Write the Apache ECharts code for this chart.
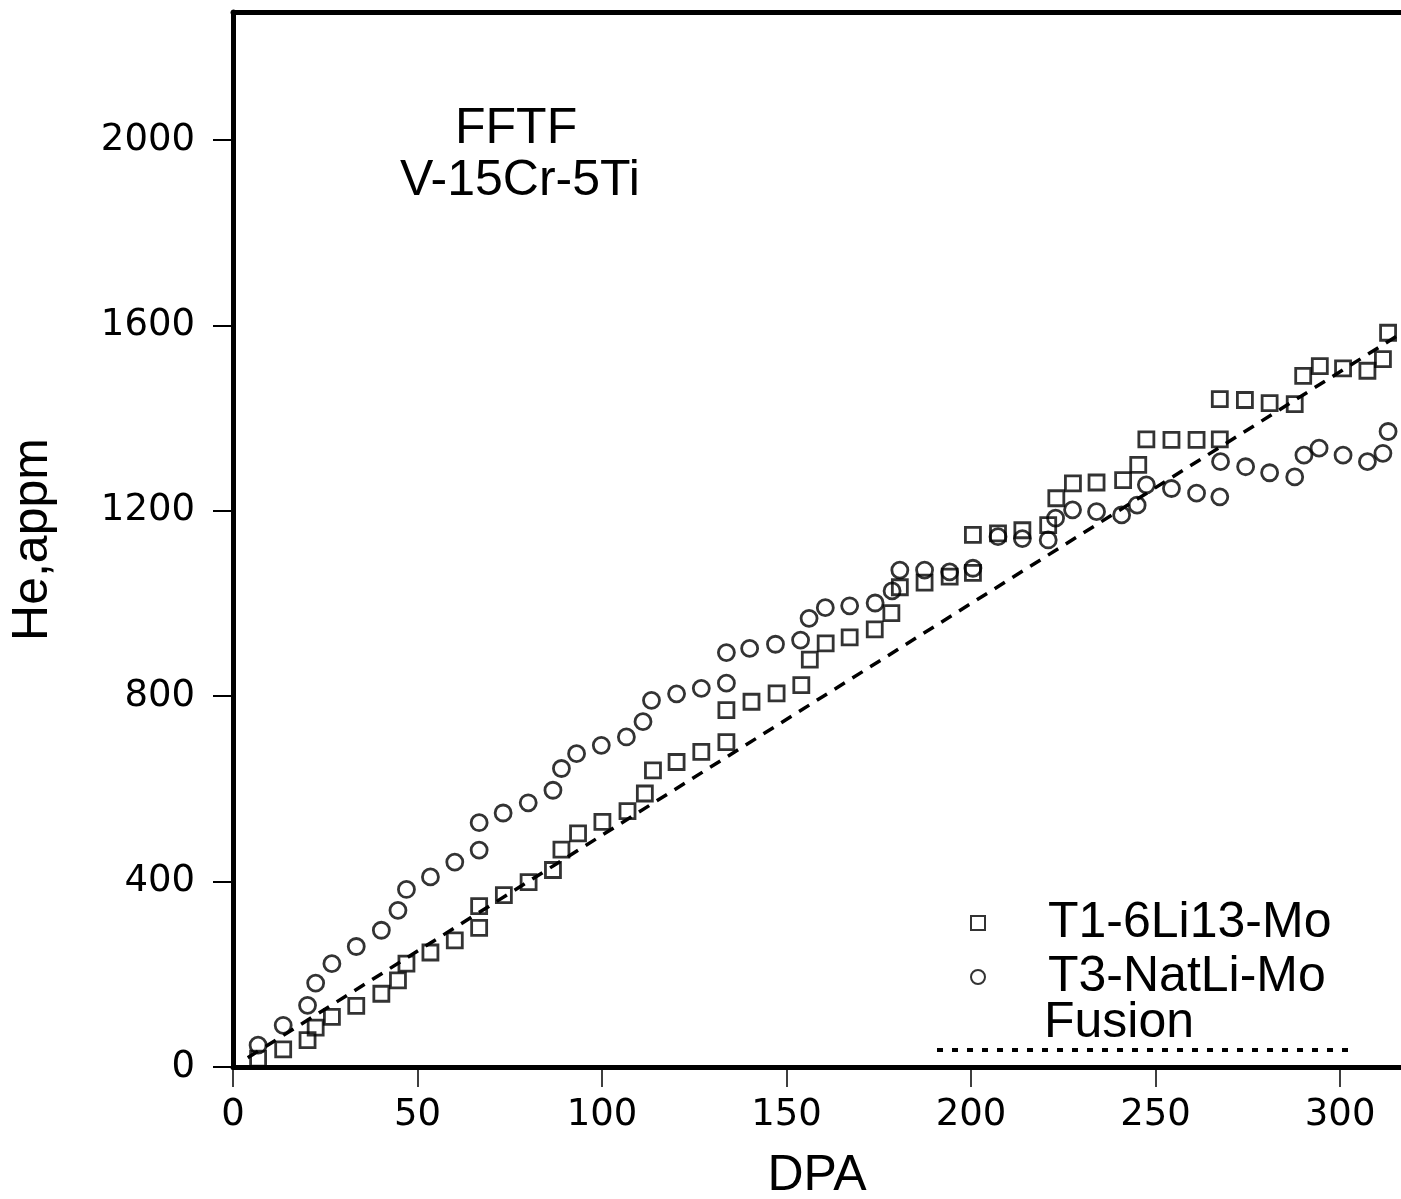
<!DOCTYPE html>
<html>
<head>
<meta charset="utf-8">
<script src="https://cdn.jsdelivr.net/npm/echarts@6/dist/echarts.min.js"></script>
<style>
  html, body { margin: 0; padding: 0; background: #fff; }
  #chart { width: 1401px; height: 1199px; }
</style>
</head>
<body>
<div id="chart"></div>
<script>
// T1-6Li13-Mo (squares)
const t1Dpa = [6.8, 13.6, 20.2, 22.4, 26.8, 33.4, 40.2, 44.7, 47.0, 53.5, 60.1, 66.7, 66.7, 73.4, 80.1, 86.7, 89.0, 93.5, 100.1, 106.9,
  111.6, 113.8, 120.2, 126.9, 133.7, 133.7, 140.5, 147.3, 154.0, 156.3, 160.6, 167.1, 173.9, 178.4, 180.7, 187.4, 194.2, 200.5, 200.5, 207.3,
  213.9, 220.9, 223.1, 227.6, 234.0, 241.2, 245.3, 247.5, 254.3, 261.1, 267.4, 267.4, 274.2, 280.9, 287.7, 290.0, 294.5, 300.8, 307.4, 311.6, 313.0];
const t1He = [18, 38, 58, 85, 108, 132, 158, 187, 223, 247, 273, 300, 347, 371, 399, 425, 469, 504, 529, 552,
  590, 640, 658, 680, 701, 770, 788, 806, 824, 879, 914, 927, 944, 979, 1035, 1045, 1058, 1066, 1148, 1151,
  1158, 1169, 1227, 1259, 1261, 1266, 1299, 1354, 1353, 1353, 1354, 1441, 1439, 1432, 1430, 1491, 1512, 1507, 1502, 1527, 1584];

// T3-NatLi-Mo (circles)
const t3Dpa = [6.8, 13.6, 20.2, 22.4, 26.8, 33.4, 40.2, 44.7, 47.0, 53.5, 60.1, 66.7, 66.7, 73.2, 80.0, 86.7, 89.0, 93.1, 99.8, 106.6,
  111.1, 113.4, 120.2, 126.9, 133.7, 133.7, 140.0, 147.0, 153.8, 156.1, 160.5, 167.1, 174.0, 178.6, 180.7, 187.4, 194.2, 200.5, 207.3, 213.9,
  220.9, 222.9, 227.5, 234.0, 240.8, 245.0, 247.5, 254.3, 261.1, 267.4, 267.6, 274.4, 280.9, 287.7, 290.2, 294.3, 300.8, 307.4, 311.6, 313.0];
const t3He = [47, 90, 133, 181, 223, 260, 295, 338, 383, 410, 442, 468, 527, 548, 570, 597, 644, 676, 694, 712,
  745, 791, 805, 817, 828, 894, 903, 912, 921, 968, 991, 995, 1001, 1027, 1072, 1072, 1068, 1076, 1144, 1140,
  1137, 1184, 1202, 1198, 1191, 1212, 1256, 1248, 1238, 1230, 1306, 1295, 1282, 1273, 1320, 1335, 1320, 1306, 1324, 1371];

// Fusion (dashed line)
const fusionDpa = [4, 317];
const fusionHe = [20, 1585];

const xTicks = [0, 50, 100, 150, 200, 250, 300];
const yTicks = [0, 400, 800, 1200, 1600, 2000];

const fontTick = 'DejaVu Sans';
const fontText = "'Liberation Sans', Arial, sans-serif";

const pairs = (xs, ys) => xs.map((x, i) => [x, ys[i]]);

const chart = echarts.init(document.getElementById('chart'));

const option = {
  backgroundColor: '#fff',
  animation: false,
  grid: { left: 233, right: 0, top: 12, bottom: 132, containLabel: false, outerBoundsMode: 'none' },
  xAxis: [{
    type: 'value',
    min: 0,
    max: 316.5,
    name: 'DPA',
    nameLocation: 'middle',
    nameGap: 84,
    nameTextStyle: { fontFamily: fontText, fontSize: 50, color: '#000' },
    axisLine: { show: true, lineStyle: { color: '#000', width: 5 } },
    axisTick: { show: true, inside: false, length: 20, customValues: xTicks, lineStyle: { color: '#000', width: 1.5 } },
    axisLabel: { customValues: xTicks, margin: 30, fontFamily: fontTick, fontSize: 37, color: '#000',
      formatter: v => String(v) },
    splitLine: { show: false }
  }, {
    type: 'value',
    position: 'top',
    min: 0,
    max: 316.5,
    axisLine: { show: true, lineStyle: { color: '#000', width: 5 } },
    axisTick: { show: false },
    axisLabel: { show: false },
    splitLine: { show: false }
  }],
  yAxis: {
    type: 'value',
    min: 0,
    max: 2276,
    name: 'He,appm',
    nameLocation: 'middle',
    nameGap: 175,
    nameRotate: 90,
    nameTextStyle: { fontFamily: fontText, fontSize: 50, color: '#000' },
    axisLine: { show: true, lineStyle: { color: '#000', width: 5 } },
    axisTick: { show: true, inside: false, length: 20, customValues: yTicks, lineStyle: { color: '#000', width: 2 } },
    axisLabel: { customValues: yTicks, margin: 38, fontFamily: fontTick, fontSize: 37, color: '#000',
      formatter: v => String(v) },
    splitLine: { show: false }
  },
  legend: {
    orient: 'vertical',
    left: 965,
    top: 893,
    itemWidth: 14,
    itemHeight: 14,
    itemGap: 4,
    textStyle: { fontFamily: fontText, fontSize: 50, color: '#000', lineHeight: 48, padding: [0, 0, 0, 58] },
    data: ['T1-6Li13-Mo', 'T3-NatLi-Mo']
  },
  graphic: [
    { type: 'text', left: 455, top: 104, style: { text: 'FFTF', font: '50px ' + fontText, fill: '#000' } },
    { type: 'text', left: 400, top: 156, style: { text: 'V-15Cr-5Ti', font: '50px ' + fontText, fill: '#000' } },
    { type: 'text', left: 1044, top: 998, style: { text: 'Fusion', font: '50px ' + fontText, fill: '#000' } },
    { type: 'line', shape: { x1: 937, y1: 1050, x2: 1348, y2: 1050 },
      style: { stroke: '#000', lineWidth: 4, lineDash: [6, 9] } }
  ],
  series: [
    {
      name: 'Fusion',
      type: 'line',
      data: pairs(fusionDpa, fusionHe),
      showSymbol: false,
      z: 1,
      lineStyle: { color: '#000', width: 3.5, type: [12, 9] }
    },
    {
      name: 'T1-6Li13-Mo',
      type: 'scatter',
      data: pairs(t1Dpa, t1He),
      symbol: 'rect',
      symbolSize: 15,
      z: 3,
      itemStyle: { color: 'transparent', borderColor: '#000', borderWidth: 2.8 }
    },
    {
      name: 'T3-NatLi-Mo',
      type: 'scatter',
      data: pairs(t3Dpa, t3He),
      symbol: 'circle',
      symbolSize: 16,
      z: 3,
      itemStyle: { color: 'transparent', borderColor: '#000', borderWidth: 2.8 }
    }
  ]
};

chart.setOption(option);
</script>
</body>
</html>
